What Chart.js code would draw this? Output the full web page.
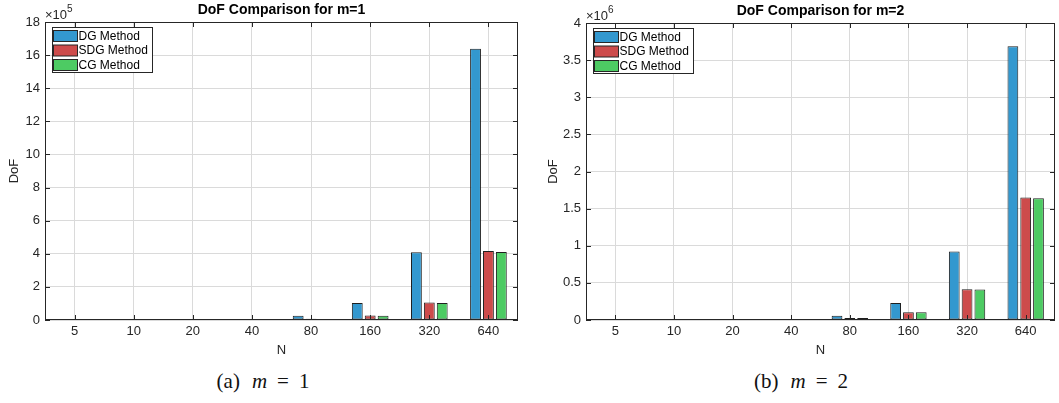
<!DOCTYPE html>
<html>
<head>
<meta charset="utf-8">
<script src="https://cdn.jsdelivr.net/npm/chart.js@4.4.0/dist/chart.umd.min.js"></script>
<style>
  body { margin: 0; background: #fff; width: 1059px; height: 403px; position: relative; overflow: hidden; }
  .panel { position: absolute; top: 0; }
  .cap { position: absolute; top: 369px; text-align: center; font-family: "Liberation Serif", "DejaVu Serif", serif; font-size: 21px; color: #111; white-space: nowrap; }
  .cap i { font-style: italic; margin-left: 12px; margin-right: 10px; }
  .cap .eq { margin-right: 10px; }
</style>
</head>
<body>
<div class="panel" style="left:0;width:530px;height:358px"><canvas id="chartM1"></canvas></div>
<div class="panel" style="left:530px;width:529px;height:358px"><canvas id="chartM2"></canvas></div>
<div class="cap" style="left:163px;width:200px">(a)<i>m</i><span class="eq">=</span>1</div>
<div class="cap" style="left:701px;width:200px">(b)<i>m</i><span class="eq">=</span>2</div>
<script>
// categorias (N)
const nLabels = ['5', '10', '20', '40', '80', '160', '320', '640'];

// m = 1
const dgM1 = [100, 400, 1600, 6400, 25600, 102400, 409600, 1638400];
const sdgM1 = [40, 130, 460, 1750, 6800, 26800, 106000, 417000];
const cgM1 = [36, 121, 441, 1681, 6561, 25921, 103041, 410881];

// m = 2
const dgM2 = [225, 900, 3600, 14400, 57600, 230400, 921600, 3686400];
const sdgM2 = [130, 470, 1760, 6700, 26500, 105000, 415000, 1650000];
const cgM2 = [121, 441, 1681, 6561, 25921, 103041, 410881, 1640961];

const seriesNames = ['DG Method', 'SDG Method', 'CG Method'];
const seriesColors = ['#3398cf', '#cd4b4b', '#4dcb63'];

const FONT = '"Liberation Sans", Arial, sans-serif';
const INK = '#262626';

// marco, ticks hacia dentro, titulo, exponente y leyenda (estilo MATLAB)
const matlabDecor = {
    id: 'matlabDecor',
    afterDatasetsDraw(chart, args, opts) {
        const { ctx, chartArea: a, scales: { x, y } } = chart;
        ctx.save();
        ctx.strokeStyle = INK;
        ctx.lineWidth = 1;
        ctx.strokeRect(Math.round(a.left) + 0.5, Math.round(a.top) + 0.5,
            Math.round(a.right - a.left) - 1, Math.round(a.bottom - a.top) - 1);
        ctx.beginPath();
        x.ticks.forEach((t, i) => {
            const px = Math.round(x.getPixelForTick(i)) + 0.5;
            ctx.moveTo(px, a.bottom); ctx.lineTo(px, a.bottom - 5);
            ctx.moveTo(px, a.top); ctx.lineTo(px, a.top + 5);
        });
        y.ticks.forEach((t, i) => {
            const py = Math.round(y.getPixelForTick(i)) + 0.5;
            ctx.moveTo(a.left, py); ctx.lineTo(a.left + 5, py);
            ctx.moveTo(a.right, py); ctx.lineTo(a.right - 5, py);
        });
        ctx.stroke();

        // titulo
        ctx.fillStyle = '#000';
        ctx.font = 'bold 14px ' + FONT;
        ctx.textAlign = 'center';
        ctx.textBaseline = 'middle';
        ctx.fillText(opts.title, (a.left + a.right) / 2, a.top - 12);

        // exponente
        ctx.fillStyle = INK;
        ctx.textAlign = 'left';
        ctx.textBaseline = 'alphabetic';
        ctx.font = '13px ' + FONT;
        const base = '\u00d710';
        ctx.fillText(base, a.left, a.top - 3);
        const w = ctx.measureText(base).width;
        ctx.font = '10px ' + FONT;
        ctx.fillText(opts.exp, a.left + w, a.top - 10);

        // leyenda
        const bx = Math.round(a.left) + 7.5, by = Math.round(a.top) + 5.5;
        ctx.fillStyle = '#fff';
        ctx.fillRect(bx, by, 100, 45);
        ctx.strokeStyle = INK;
        ctx.strokeRect(bx, by, 100, 45);
        ctx.font = '12px ' + FONT;
        ctx.textBaseline = 'middle';
        chart.data.datasets.forEach((ds, i) => {
            const sy = by + 3 + i * 14.5;
            ctx.fillStyle = ds.backgroundColor;
            ctx.fillRect(bx + 1, sy, 24, 11);
            ctx.strokeStyle = INK;
            ctx.strokeRect(bx + 1, sy, 24, 11);
            ctx.fillStyle = '#000';
            ctx.fillText(ds.label, bx + 26, sy + 6);
        });
        ctx.restore();
    }
};

function makeChart(id, series, cfg) {
    const ctx = document.getElementById(id).getContext('2d');
    return new Chart(ctx, {
        type: 'bar',
        data: {
            labels: nLabels,
            datasets: series.map((vals, i) => ({
                label: seriesNames[i],
                data: vals,
                backgroundColor: seriesColors[i],
                borderColor: '#1f1f1f',
                borderWidth: 1,
                borderSkipped: false,
                barPercentage: 0.84,
                categoryPercentage: 0.655
            }))
        },
        options: {
            responsive: true,
            maintainAspectRatio: false,
            animation: false,
            layout: { padding: { top: cfg.padTop, right: cfg.padRight, left: cfg.padLeft, bottom: 0 } },
            plugins: {
                legend: { display: false },
                title: { display: false },
                tooltip: { enabled: false },
                matlabDecor: { title: cfg.title, exp: cfg.exp }
            },
            scales: {
                x: {
                    offset: true,
                    grid: { offset: false, color: '#dadada', drawTicks: false },
                    border: { display: false },
                    ticks: { font: { family: FONT, size: 13 }, color: INK, padding: 4, maxRotation: 0 },
                    title: { display: true, text: 'N', font: { family: FONT, size: 13 }, color: INK, padding: { top: 2, bottom: 0 } },
                    afterFit: (s) => { s.height = 38; }
                },
                y: {
                    min: 0,
                    max: cfg.yMax,
                    grid: { color: '#dadada', drawTicks: false },
                    border: { display: false },
                    ticks: {
                        stepSize: cfg.yStep,
                        font: { family: FONT, size: 13 },
                        color: INK,
                        padding: 5,
                        callback: (v) => String(+(v / cfg.div).toFixed(2))
                    },
                    title: { display: true, text: 'DoF', font: { family: FONT, size: 13 }, color: INK, padding: { top: 0, bottom: 0 } },
                    afterFit: (s) => { s.width = cfg.axisWidth; }
                }
            }
        },
        plugins: [matlabDecor]
    });
}

makeChart('chartM1', [dgM1, sdgM1, cgM1], {
    title: 'DoF Comparison for m=1', exp: '5',
    yMax: 1800000, yStep: 200000, div: 100000,
    padTop: 22, padRight: 12, padLeft: 7, axisWidth: 38
});

makeChart('chartM2', [dgM2, sdgM2, cgM2], {
    title: 'DoF Comparison for m=2', exp: '6',
    yMax: 4000000, yStep: 500000, div: 1000000,
    padTop: 23, padRight: 4, padLeft: 16, axisWidth: 40
});
</script>
</body>
</html>
